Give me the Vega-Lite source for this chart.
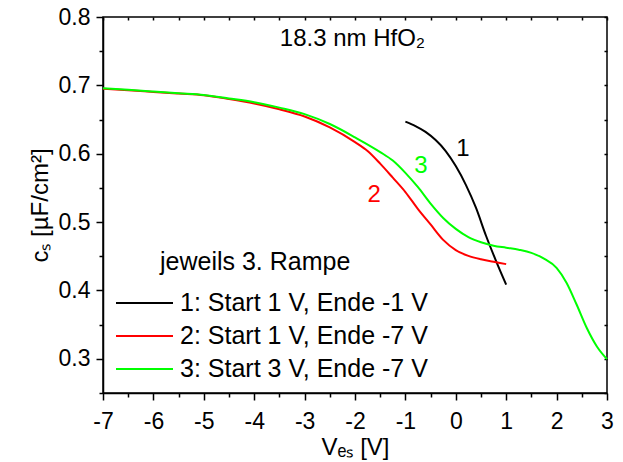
{
  "$schema": "https://vega.github.io/schema/vega-lite/v6.json",
  "width": 504,
  "height": 376,
  "autosize": {"type": "none"},
  "padding": {"left": 103, "top": 17, "right": 16, "bottom": 69},
  "config": {
    "font": "Liberation Sans",
    "view": {"stroke": "#000000", "strokeWidth": 1.5},
    "axis": {"grid": false, "labelColor": "black", "titleColor": "black", "titleFontWeight": "normal", "labelFont": "Liberation Sans", "titleFont": "Liberation Sans"},
    "legend": {"labelFont": "Liberation Sans", "titleFont": "Liberation Sans"}
  },
  "datasets": {
    "curves": [
      {"Kurve": "1: Start 1 V, Ende -1 V", "V": -1.0, "c": 0.647},
      {"Kurve": "1: Start 1 V, Ende -1 V", "V": -0.8, "c": 0.6405},
      {"Kurve": "1: Start 1 V, Ende -1 V", "V": -0.6, "c": 0.632},
      {"Kurve": "1: Start 1 V, Ende -1 V", "V": -0.4, "c": 0.62},
      {"Kurve": "1: Start 1 V, Ende -1 V", "V": -0.2, "c": 0.604},
      {"Kurve": "1: Start 1 V, Ende -1 V", "V": 0.0, "c": 0.582},
      {"Kurve": "1: Start 1 V, Ende -1 V", "V": 0.2, "c": 0.5545},
      {"Kurve": "1: Start 1 V, Ende -1 V", "V": 0.4, "c": 0.521},
      {"Kurve": "1: Start 1 V, Ende -1 V", "V": 0.6, "c": 0.48},
      {"Kurve": "1: Start 1 V, Ende -1 V", "V": 0.8, "c": 0.443},
      {"Kurve": "1: Start 1 V, Ende -1 V", "V": 1.0, "c": 0.4085},
      {"Kurve": "2: Start 1 V, Ende -7 V", "V": -7, "c": 0.695},
      {"Kurve": "2: Start 1 V, Ende -7 V", "V": -6.5, "c": 0.693},
      {"Kurve": "2: Start 1 V, Ende -7 V", "V": -6, "c": 0.6905},
      {"Kurve": "2: Start 1 V, Ende -7 V", "V": -5.5, "c": 0.688},
      {"Kurve": "2: Start 1 V, Ende -7 V", "V": -5, "c": 0.6855},
      {"Kurve": "2: Start 1 V, Ende -7 V", "V": -4.5, "c": 0.68},
      {"Kurve": "2: Start 1 V, Ende -7 V", "V": -4, "c": 0.6735},
      {"Kurve": "2: Start 1 V, Ende -7 V", "V": -3.5, "c": 0.665},
      {"Kurve": "2: Start 1 V, Ende -7 V", "V": -3, "c": 0.6545},
      {"Kurve": "2: Start 1 V, Ende -7 V", "V": -2.5, "c": 0.6385},
      {"Kurve": "2: Start 1 V, Ende -7 V", "V": -2, "c": 0.617},
      {"Kurve": "2: Start 1 V, Ende -7 V", "V": -1.75, "c": 0.604},
      {"Kurve": "2: Start 1 V, Ende -7 V", "V": -1.5, "c": 0.5855},
      {"Kurve": "2: Start 1 V, Ende -7 V", "V": -1.25, "c": 0.565},
      {"Kurve": "2: Start 1 V, Ende -7 V", "V": -1, "c": 0.544},
      {"Kurve": "2: Start 1 V, Ende -7 V", "V": -0.75, "c": 0.519},
      {"Kurve": "2: Start 1 V, Ende -7 V", "V": -0.5, "c": 0.4965},
      {"Kurve": "2: Start 1 V, Ende -7 V", "V": -0.25, "c": 0.474},
      {"Kurve": "2: Start 1 V, Ende -7 V", "V": 0, "c": 0.459},
      {"Kurve": "2: Start 1 V, Ende -7 V", "V": 0.25, "c": 0.4505},
      {"Kurve": "2: Start 1 V, Ende -7 V", "V": 0.5, "c": 0.4455},
      {"Kurve": "2: Start 1 V, Ende -7 V", "V": 0.75, "c": 0.442},
      {"Kurve": "2: Start 1 V, Ende -7 V", "V": 1, "c": 0.4385},
      {"Kurve": "3: Start 3 V, Ende -7 V", "V": -7, "c": 0.696},
      {"Kurve": "3: Start 3 V, Ende -7 V", "V": -6.5, "c": 0.6935},
      {"Kurve": "3: Start 3 V, Ende -7 V", "V": -6, "c": 0.691},
      {"Kurve": "3: Start 3 V, Ende -7 V", "V": -5.5, "c": 0.6885},
      {"Kurve": "3: Start 3 V, Ende -7 V", "V": -5, "c": 0.686},
      {"Kurve": "3: Start 3 V, Ende -7 V", "V": -4.5, "c": 0.681},
      {"Kurve": "3: Start 3 V, Ende -7 V", "V": -4, "c": 0.6755},
      {"Kurve": "3: Start 3 V, Ende -7 V", "V": -3.5, "c": 0.6675},
      {"Kurve": "3: Start 3 V, Ende -7 V", "V": -3, "c": 0.658},
      {"Kurve": "3: Start 3 V, Ende -7 V", "V": -2.5, "c": 0.6435},
      {"Kurve": "3: Start 3 V, Ende -7 V", "V": -2, "c": 0.624},
      {"Kurve": "3: Start 3 V, Ende -7 V", "V": -1.5, "c": 0.6025},
      {"Kurve": "3: Start 3 V, Ende -7 V", "V": -1.25, "c": 0.59},
      {"Kurve": "3: Start 3 V, Ende -7 V", "V": -1, "c": 0.572},
      {"Kurve": "3: Start 3 V, Ende -7 V", "V": -0.75, "c": 0.551},
      {"Kurve": "3: Start 3 V, Ende -7 V", "V": -0.5, "c": 0.527},
      {"Kurve": "3: Start 3 V, Ende -7 V", "V": -0.25, "c": 0.506},
      {"Kurve": "3: Start 3 V, Ende -7 V", "V": 0, "c": 0.49},
      {"Kurve": "3: Start 3 V, Ende -7 V", "V": 0.25, "c": 0.478},
      {"Kurve": "3: Start 3 V, Ende -7 V", "V": 0.5, "c": 0.4705},
      {"Kurve": "3: Start 3 V, Ende -7 V", "V": 0.75, "c": 0.4655},
      {"Kurve": "3: Start 3 V, Ende -7 V", "V": 1, "c": 0.4625},
      {"Kurve": "3: Start 3 V, Ende -7 V", "V": 1.25, "c": 0.4595},
      {"Kurve": "3: Start 3 V, Ende -7 V", "V": 1.5, "c": 0.455},
      {"Kurve": "3: Start 3 V, Ende -7 V", "V": 1.75, "c": 0.4465},
      {"Kurve": "3: Start 3 V, Ende -7 V", "V": 2, "c": 0.433},
      {"Kurve": "3: Start 3 V, Ende -7 V", "V": 2.2, "c": 0.411},
      {"Kurve": "3: Start 3 V, Ende -7 V", "V": 2.4, "c": 0.379},
      {"Kurve": "3: Start 3 V, Ende -7 V", "V": 2.6, "c": 0.345},
      {"Kurve": "3: Start 3 V, Ende -7 V", "V": 2.8, "c": 0.318},
      {"Kurve": "3: Start 3 V, Ende -7 V", "V": 3, "c": 0.2995}
    ],
    "labels": [
      {"label": "1", "V": 0.143, "c": 0.5963},
      {"label": "2", "V": -1.62, "c": 0.53},
      {"label": "3", "V": -0.69, "c": 0.572},
      {"label": "18.3 nm HfO₂", "V": -2.05, "c": 0.757}
    ],
    "legendtitle": [
      {"label": "jeweils 3. Rampe", "V": -5.87, "c": 0.43}
    ]
  },
  "layer": [
    {
      "data": {"name": "curves"},
      "mark": {"type": "line", "strokeWidth": 2, "interpolate": "monotone"},
      "encoding": {
        "x": {"field": "V", "type": "quantitative", "scale": {"domain": [-7.001, 3.001], "nice": false, "zero": false},
          "axis": {"orient": "bottom", "values": [-7, -6, -5, -4, -3, -2, -1, 0, 1, 2, 3], "labelExpr": "'' + datum.value", "labelFlush": 0.01, "tickSize": 7, "tickColor": "#000000", "tickWidth": 1.5, "domainColor": "#000000", "domainWidth": 1.5, "labelFontSize": 23, "labelPadding": 10, "title": "Vₑₛ [V]", "titleFontSize": 24, "titlePadding": 2}},
        "y": {"field": "c", "type": "quantitative", "scale": {"domain": [0.2499, 0.8001], "nice": false, "zero": false},
          "axis": {"orient": "left", "values": [0.3, 0.4, 0.5, 0.6, 0.7, 0.8], "labelExpr": "format(datum.value, '.1f')", "labelFlush": 0.01, "tickSize": 7, "tickColor": "#000000", "tickWidth": 1.5, "domainColor": "#000000", "domainWidth": 1.5, "labelFontSize": 23, "labelPadding": 6, "title": "cₛ [µF/cm²]", "titleFontSize": 24, "titlePadding": 6}},
        "color": {"field": "Kurve", "type": "nominal",
          "scale": {"domain": ["1: Start 1 V, Ende -1 V", "2: Start 1 V, Ende -7 V", "3: Start 3 V, Ende -7 V"], "range": ["#000000", "#ff0000", "#00ff00"]},
          "legend": {"orient": "none", "legendX": 28, "legendY": 272.5, "padding": 0, "title": null, "labelFontSize": 25, "labelColor": "black", "labelLimit": 0, "labelOffset": 22, "symbolType": "M-2.28,0H2.28", "symbolSize": 625, "symbolStrokeWidth": 2, "rowPadding": 6}}
      }
    },
    {
      "data": {"name": "curves"},
      "mark": {"type": "point", "opacity": 0},
      "encoding": {
        "x": {"field": "V", "type": "quantitative", "axis": {"orient": "bottom", "values": [-6.5, -5.5, -4.5, -3.5, -2.5, -1.5, -0.5, 0.5, 1.5, 2.5], "labelFlush": 0.01, "tickSize": 4, "tickColor": "#000000", "tickWidth": 1.5, "domain": false, "labels": false, "title": null}},
        "y": {"field": "c", "type": "quantitative", "axis": {"orient": "left", "values": [0.25, 0.35, 0.45, 0.55, 0.65, 0.75], "labelFlush": 0.01, "tickSize": 4, "tickColor": "#000000", "tickWidth": 1.5, "domain": false, "labels": false, "title": null}}
      }
    },
    {
      "data": {"name": "curves"},
      "mark": {"type": "point", "opacity": 0},
      "encoding": {
        "x": {"field": "V", "type": "quantitative", "axis": {"orient": "top", "offset": -3, "values": [-7, -6.5, -6, -5.5, -5, -4.5, -4, -3.5, -3, -2.5, -2, -1.5, -1, -0.5, 0, 0.5, 1, 1.5, 2, 2.5, 3], "labelFlush": 0.01, "tickSize": 3, "tickColor": "#000000", "tickWidth": 1.5, "domain": false, "labels": false, "title": null}},
        "y": {"field": "c", "type": "quantitative", "axis": {"orient": "right", "offset": -3, "values": [0.25, 0.3, 0.35, 0.4, 0.45, 0.5, 0.55, 0.6, 0.65, 0.7, 0.75, 0.8], "labelFlush": 0.01, "tickSize": 3, "tickColor": "#000000", "tickWidth": 1.5, "domain": false, "labels": false, "title": null}}
      }
    },
    {
      "data": {"name": "labels"},
      "mark": {"type": "text", "fontSize": 24, "align": "center", "baseline": "alphabetic", "font": "Liberation Sans"},
      "encoding": {
        "x": {"field": "V", "type": "quantitative", "axis": null},
        "y": {"field": "c", "type": "quantitative", "axis": null},
        "text": {"field": "label"},
        "color": {"field": "label", "type": "nominal", "scale": {"domain": ["1", "2", "3", "18.3 nm HfO₂"], "range": ["#000000", "#ff0000", "#00ff00", "#000000"]}, "legend": null}
      }
    },
    {
      "data": {"name": "legendtitle"},
      "mark": {"type": "text", "fontSize": 25, "align": "left", "baseline": "alphabetic", "font": "Liberation Sans", "color": "#000000"},
      "encoding": {
        "x": {"field": "V", "type": "quantitative", "axis": null},
        "y": {"field": "c", "type": "quantitative", "axis": null},
        "text": {"field": "label"}
      }
    }
  ],
  "resolve": {"axis": {"x": "independent", "y": "independent"}, "scale": {"color": "independent"}}
}
